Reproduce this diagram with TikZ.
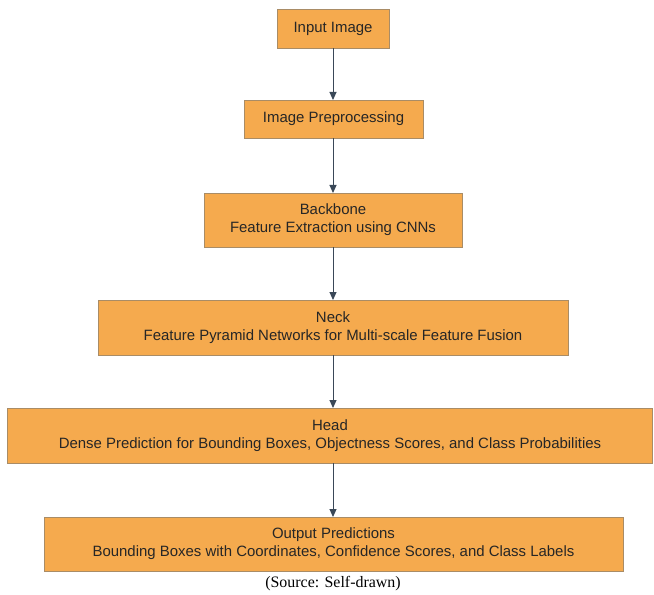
\documentclass[tikz,border=0pt]{standalone}
\usepackage{fontspec}
\setmainfont{Liberation Sans}
\newfontfamily\srcfont{Liberation Serif}
\usetikzlibrary{arrows.meta}
\definecolor{stagefill}{HTML}{F5AA4E}
\definecolor{stageline}{HTML}{A98C66}
\definecolor{flowline}{HTML}{3A4858}
\tikzset{stage/.style={
    draw=stageline, fill=stagefill, line width=0.9bp,
    inner sep=0pt, outer sep=0pt, align=center,
    text=black!85, font=\fontsize{15}{18}\selectfont
  },
  flow/.style={
    draw=flowline, line width=1bp,
    -{Triangle[length=8bp,width=7bp]}
  }
}

\begin{document}
\begin{tikzpicture}[x=1bp,y=-1bp]
      \useasboundingbox[fill=white] (0,0) rectangle (654,595);
      \node[stage, minimum width=112bp, minimum height=39bp] (input) at (333,28.5) {Input Image};
      \node[stage, minimum width=179bp, minimum height=38bp] (prep) at (333.5,119) {Image Preprocessing};
      \node[stage, minimum width=258bp, minimum height=54bp] (backbone) at (333,220)
        {Backbone\\Feature Extraction using CNNs};
      \node[stage, minimum width=470bp, minimum height=55bp] (neck) at (333,327.5)
        {Neck\\Feature Pyramid Networks for Multi-scale Feature Fusion};
      \node[stage, minimum width=645bp, minimum height=55bp] (head) at (330,435.5)
        {Head\\Dense Prediction for Bounding Boxes, Objectness Scores, and Class Probabilities};
      \node[stage, minimum width=579bp, minimum height=54bp] (output) at (333.5,544)
        {Output Predictions\\Bounding Boxes with Coordinates, Confidence Scores, and Class Labels};
      \node[font=\srcfont\fontsize{16}{18}\selectfont] (source) at (333,584) {(Source: Self-drawn)};
      % all connectors on the middle axis
      \draw[flow] (input.south -| 333,0) -- (prep.north -| 333,0);
      \draw[flow] (prep.south -| 333,0) -- (backbone.north -| 333,0);
      \draw[flow] (backbone.south -| 333,0) -- (neck.north -| 333,0);
      \draw[flow] (neck.south -| 333,0) -- (head.north -| 333,0);
      \draw[flow] (head.south -| 333,0) -- (output.north -| 333,0);
    \end{tikzpicture}
\end{document}
